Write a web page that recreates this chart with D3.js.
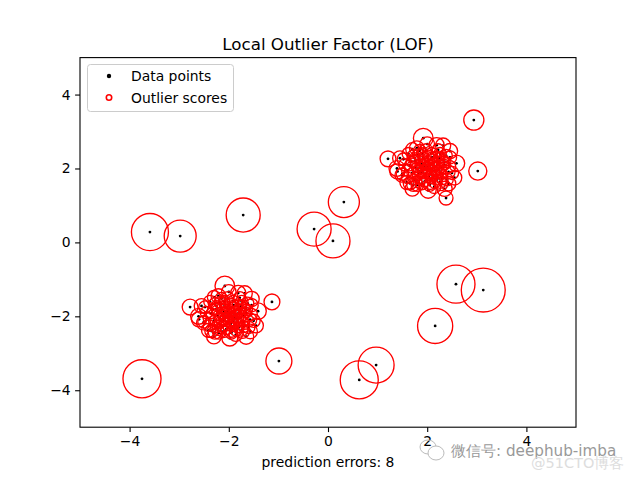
<!DOCTYPE html>
<html><head><meta charset="utf-8">
<script src="https://cdn.jsdelivr.net/npm/d3@7"></script>
<style>body{margin:0;background:#fff}svg{display:block}text{font-family:"DejaVu Sans",sans-serif}</style>
</head><body>
<svg id="c" width="640" height="480"></svg>
<script>
// cluster centres (two inlier groups share the same offsets)
const clusterCenters = [2, -2];
const offX = [0.02,-0.10,0.15,-0.05,0.22,-0.18,0.08,-0.25,0.12,-0.12,0.28,-0.02,0.05,-0.08,0.18,0.30,-0.30,-0.22,0.10,-0.15,0.25,0.00,-0.05,0.20,-0.28,0.35,0.08,-0.12,0.15,-0.20,0.02,0.32,-0.35,-0.10,0.12,0.24,-0.04,0.06,-0.26,0.18,-0.45,0.45,-0.40,0.40,-0.15,0.22,-0.38,0.36,0.05,-0.20,0.28,-0.50,0.50,-0.30,0.09,-0.48,0.46,-0.35,0.15,-0.10,-0.08,0.19,-0.21,-0.61,-0.51,-0.41,0.02,-0.11,0.59,0.46,0.43,0.43,0.26,0.19,-0.28,-0.25,0.06,-0.55,0.00,0.32,-0.30,0.35,-0.02,0.55,-0.60,0.12,-0.06,0.04,-0.16,0.20,-0.08,0.10,-0.32,0.30,-0.22,0.38,-0.40,0.14,-0.18,0.26];
const offY = [0.05,0.12,-0.08,-0.15,0.18,-0.05,0.25,0.20,-0.22,-0.28,0.02,-0.02,0.10,0.30,0.32,-0.15,-0.12,0.02,-0.05,0.22,0.28,0.20,-0.35,-0.30,0.35,0.10,-0.12,0.05,0.05,-0.20,0.35,0.22,0.08,-0.10,0.15,-0.05,0.15,-0.28,-0.30,-0.15,0.10,0.05,-0.25,-0.30,0.48,0.50,0.40,0.18,-0.45,-0.45,-0.42,-0.15,-0.12,0.52,0.41,0.25,0.30,-0.40,-0.38,0.40,0.82,0.63,0.55,0.00,-0.18,-0.38,-0.59,-0.41,0.14,0.47,-0.41,-0.09,-0.37,-0.05,-0.44,0.28,-0.41,0.28,0.66,0.62,-0.55,-0.55,0.50,-0.25,-0.08,0.05,0.08,-0.20,-0.12,0.10,-0.05,0.30,0.18,-0.28,-0.36,0.35,-0.05,-0.50,0.38,0.40];
const offScore = [0.05,0.05,0.05,0.05,0.06,0.05,0.06,0.06,0.05,0.06,0.06,0.05,0.05,0.06,0.06,0.06,0.06,0.05,0.05,0.05,0.06,0.05,0.06,0.06,0.07,0.06,0.05,0.05,0.05,0.05,0.06,0.06,0.06,0.05,0.05,0.05,0.05,0.05,0.06,0.05,0.08,0.08,0.07,0.08,0.08,0.08,0.08,0.07,0.08,0.08,0.09,0.08,0.09,0.09,0.07,0.08,0.09,0.09,0.07,0.07,0.20,0.12,0.11,0.13,0.10,0.10,0.13,0.08,0.14,0.12,0.11,0.09,0.08,0.05,0.09,0.06,0.07,0.11,0.11,0.12,0.11,0.12,0.08,0.11,0.12,0.05,0.05,0.05,0.05,0.05,0.05,0.06,0.06,0.07,0.07,0.08,0.07,0.09,0.07,0.08];
// scattered outliers
const outX = [2.94,3.02,1.21,2.38,0.32,-1.71,-3.59,-2.98,-0.28,0.10,2.58,3.13,2.16,-2.78,-1.13,-0.99,-3.75,0.63,0.97];
const outY = [3.31,1.93,2.26,1.20,1.09,0.74,0.28,0.17,0.36,0.04,-1.13,-1.29,-2.26,-1.75,-1.61,-3.21,-3.69,-3.72,-3.32];
const outScore = [0.21,0.17,0.13,0.10,0.50,0.60,0.71,0.53,0.60,0.60,0.75,1.00,0.64,0.13,0.13,0.35,0.75,0.75,0.67];
const ticks = [-4,-2,0,2,4];
const titleText = "Local Outlier Factor (LOF)";
const xLabelText = "prediction errors: 8";
const legendLabels = ["Data points","Outlier scores"];

const points = [];
clusterCenters.forEach(c => offX.forEach((dx,i) => points.push({x:c+dx, y:c+offY[i], s:offScore[i]})));
outX.forEach((x,i) => points.push({x, y:outY[i], s:outScore[i]}));

const svg = d3.select("#c");
const L=80, R=576, T=57.6, B=427.2;
const x = d3.scaleLinear().domain([-5,5]).range([L,R]);
const y = d3.scaleLinear().domain([-5,5]).range([B,T]);
const rs = d3.scaleSqrt().domain([0,1]).range([0,21.96]);

const fmt = d => (d<0?"\u2212":"")+Math.abs(d);
svg.append("clipPath").attr("id","cp").append("rect").attr("x",L).attr("y",T).attr("width",R-L).attr("height",B-T);
const plot = svg.append("g").attr("clip-path","url(#cp)");
plot.selectAll("circle.pt").data(points).join("circle").attr("class","pt")
  .attr("cx",d=>x(d.x)).attr("cy",d=>y(d.y)).attr("r",1.4).attr("fill","#000");
plot.selectAll("circle.sc").data(points).join("circle").attr("class","sc")
  .attr("cx",d=>x(d.x)).attr("cy",d=>y(d.y)).attr("r",d=>rs(d.s)).attr("fill","none").attr("stroke","red").attr("stroke-width",1.35);

const xa = svg.append("g").attr("transform",`translate(0,${B})`).call(d3.axisBottom(x).tickValues(ticks).tickFormat(fmt).tickSizeOuter(0).tickSize(4.9).tickPadding(4.5));
const ya = svg.append("g").attr("transform",`translate(${L},0)`).call(d3.axisLeft(y).tickValues(ticks).tickFormat(fmt).tickSizeOuter(0).tickSize(4.9).tickPadding(4.5));
[xa,ya].forEach(a=>{a.select(".domain").remove();a.selectAll("text").attr("font-size",13.9).attr("font-family","DejaVu Sans").attr("fill","#000");a.selectAll("line").attr("stroke","#000").attr("stroke-width",1.1);});
svg.append("rect").attr("x",L).attr("y",T).attr("width",R-L).attr("height",B-T).attr("fill","none").attr("stroke","#000").attr("stroke-width",1.1);

svg.append("text").attr("x",(L+R)/2).attr("y",49.5).attr("text-anchor","middle").attr("font-size",16.7).text(titleText);
svg.append("text").attr("x",(L+R)/2).attr("y",467).attr("text-anchor","middle").attr("font-size",13.9).text(xLabelText);

// legend
const lg = svg.append("g");
lg.append("rect").attr("x",87.5).attr("y",64.5).attr("width",146).attr("height",47).attr("rx",3).attr("fill","#fff").attr("fill-opacity",0.8).attr("stroke","#ccc").attr("stroke-width",1);
lg.append("circle").attr("cx",109).attr("cy",76).attr("r",2.2).attr("fill","#000");
lg.append("circle").attr("cx",109).attr("cy",97.5).attr("r",2.7).attr("fill","none").attr("stroke","red").attr("stroke-width",1.6);
legendLabels.forEach((t,i)=>lg.append("text").attr("x",131).attr("y",81+i*21.5).attr("font-size",13.9).text(t));

// watermark
const wm = svg.append("g");
wm.append("ellipse").attr("cx",428).attr("cy",447).attr("rx",8).attr("ry",7).attr("fill","none").attr("stroke","#bbb").attr("stroke-width",1);
wm.append("ellipse").attr("cx",436).attr("cy",453).attr("rx",8).attr("ry",7).attr("fill","#fff").attr("stroke","#bbb").attr("stroke-width",1);
wm.append("text").attr("x",451).attr("y",456).attr("font-size",15.2).attr("font-family","Noto Sans CJK SC").attr("fill","#999").text("微信号: deephub-imba");
wm.append("text").attr("x",531).attr("y",468).attr("font-size",14.5).attr("font-family","Noto Sans CJK SC").attr("fill","#ddd").text("@51CTO博客");
</script>
</body></html>
